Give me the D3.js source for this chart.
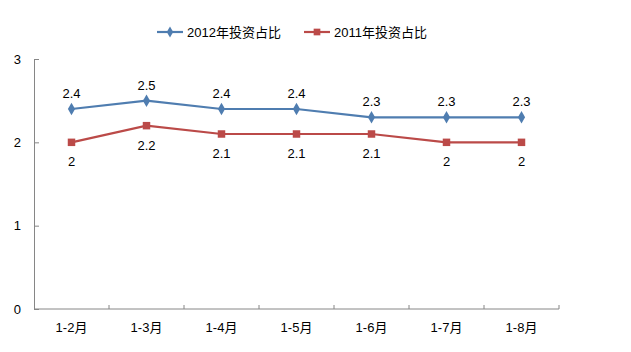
<!DOCTYPE html>
<html>
<head>
<meta charset="utf-8">
<script src="https://cdn.jsdelivr.net/npm/d3@7"></script>
<style>
  body { margin: 0; background: #fff; }
  text { font-family: Arial, "Liberation Sans", "Noto Sans CJK SC", sans-serif; }
</style>
</head>
<body>
<div id="chart"></div>
<script>
// Chart data
const months = ['1-2月', '1-3月', '1-4月', '1-5月', '1-6月', '1-7月', '1-8月'];
const share2012 = [2.4, 2.5, 2.4, 2.4, 2.3, 2.3, 2.3];
const share2011 = [2, 2.2, 2.1, 2.1, 2.1, 2, 2];
const yTicks = [0, 1, 2, 3];

const width = 631, height = 352;
const margin = { left: 34, right: 72, top: 59, bottom: 43 };

const svg = d3.select('#chart').append('svg')
  .attr('width', width)
  .attr('height', height);

const x = d3.scaleBand()
  .domain(months)
  .range([margin.left, width - margin.right]);

const y = d3.scaleLinear()
  .domain([0, 3])
  .range([height - margin.bottom, margin.top]);

const axisColor = '#868686';

// Y axis
const yAxis = svg.append('g')
  .attr('transform', `translate(${margin.left},0)`)
  .call(d3.axisLeft(y).tickValues(yTicks).tickFormat(d3.format('d')).tickSize(-5).tickSizeOuter(0).tickPadding(13));
yAxis.select('.domain').attr('stroke', axisColor);
yAxis.selectAll('.tick line').attr('stroke', axisColor);
yAxis.selectAll('text').style('font-size', '13px').attr('fill', '#000');

// X axis with ticks between categories
const xAxisG = svg.append('g')
  .attr('transform', `translate(0,${y(0)})`);
xAxisG.append('line')
  .attr('x1', margin.left).attr('x2', width - margin.right)
  .attr('stroke', axisColor);
xAxisG.selectAll('.xt')
  .data(months)
  .enter()
  .append('line')
  .attr('x1', d => x(d) + x.bandwidth())
  .attr('x2', d => x(d) + x.bandwidth())
  .attr('y1', 0).attr('y2', -4)
  .attr('stroke', axisColor);
xAxisG.selectAll('.xl')
  .data(months)
  .enter()
  .append('text')
  .attr('x', d => x(d) + x.bandwidth() / 2)
  .attr('y', 23)
  .attr('text-anchor', 'middle')
  .style('font-size', '13px')
  .text(d => d);

const series = [
  { name: '2012年投资占比', values: share2012, color: '#4F7DB0', marker: d3.symbolDiamond, size: 45, labelDy: -11 },
  { name: '2011年投资占比', values: share2011, color: '#BB4A48', marker: d3.symbolSquare, size: 56, labelDy: 24 }
];

const cx = d => x(d) + x.bandwidth() / 2;

series.forEach(s => {
  const line = d3.line()
    .x((d, i) => cx(months[i]))
    .y(d => y(d));

  svg.append('path')
    .datum(s.values)
    .attr('d', line)
    .attr('fill', 'none')
    .attr('stroke', s.color)
    .attr('stroke-width', 2.2);

  svg.selectAll(null)
    .data(s.values)
    .enter()
    .append('path')
    .attr('d', d3.symbol().type(s.marker).size(s.size))
    .attr('transform', (d, i) => `translate(${cx(months[i])},${y(d)})`)
    .attr('fill', s.color);

  svg.selectAll(null)
    .data(s.values)
    .enter()
    .append('text')
    .attr('x', (d, i) => cx(months[i]))
    .attr('y', d => y(d) + s.labelDy)
    .attr('text-anchor', 'middle')
    .style('font-size', '13px')
    .text(d => d);
});

// Legend
const legendItems = [
  { s: series[0], x: 157 },
  { s: series[1], x: 304 }
];
legendItems.forEach(({ s, x: lx }) => {
  const g = svg.append('g').attr('transform', `translate(${lx},32)`);
  g.append('line')
    .attr('x1', 0).attr('x2', 26)
    .attr('stroke', s.color)
    .attr('stroke-width', 2.2);
  g.append('path')
    .attr('d', d3.symbol().type(s.marker).size(s.size * 0.8))
    .attr('transform', 'translate(13,0)')
    .attr('fill', s.color);
  g.append('text')
    .attr('x', 30)
    .attr('y', 5)
    .style('font-size', '13px')
    .text(s.name);
});
</script>
</body>
</html>
